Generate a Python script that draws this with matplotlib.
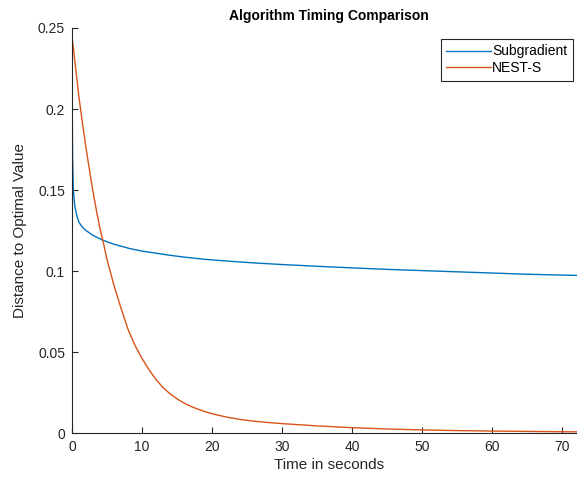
"""
Algorithm timing comparison: distance to optimal value vs wall time
for the subgradient method and NEST-S (values read off the reference).
"""

from matplotlib import pyplot as plt

# Subgradient method
SUB_TIME = [0, 0.03, 0.08, 0.19, 0.4, 0.7, 1.0, 1.5, 2, 3, 4.4, 6, 8.3, 10,
            12, 14, 16, 19, 22.6, 26, 30, 37, 45, 55, 65, 74]
SUB_DIST = [0.245, 0.2, 0.17, 0.15, 0.14, 0.134, 0.130, 0.127, 0.125, 0.122,
            0.119, 0.1165, 0.1138, 0.1123, 0.111, 0.1097, 0.1086, 0.1072,
            0.106, 0.105, 0.104, 0.1025, 0.101, 0.0995, 0.098, 0.0971]

# NEST-S
NEST_TIME = [0, 0.5, 1, 1.5, 2, 2.5, 3, 3.5, 4, 4.5, 5, 6, 7, 8, 9, 10, 11, 12,
             13, 14, 15, 16, 17, 18, 19, 20, 22, 24, 26, 28, 30, 35, 40, 45,
             50, 55, 60, 65, 70, 74]
NEST_DIST = [0.245, 0.226, 0.207, 0.191, 0.176, 0.162, 0.149, 0.137, 0.126,
             0.117, 0.107, 0.091, 0.077, 0.064, 0.054, 0.046, 0.039, 0.033,
             0.028, 0.0242, 0.0211, 0.0185, 0.0164, 0.0147, 0.0132, 0.0119,
             0.0099, 0.0084, 0.0073, 0.0065, 0.0058, 0.0044, 0.0033, 0.0025,
             0.0019, 0.0015, 0.0012, 0.001, 0.0008, 0.0007]

X_TICKS = [0, 10, 20, 30, 40, 50, 60, 70]
Y_TICKS = [0, 0.05, 0.1, 0.15, 0.2, 0.25]
Y_TICK_LABELS = ["0", "0.05", "0.1", "0.15", "0.2", "0.25"]

AXIS_COLOR = "#262626"

plt.rcParams["font.family"] = ["Liberation Sans", "DejaVu Sans"]

fig = plt.figure(figsize=(5.77, 4.86), dpi=100)
# axes run a little past the right edge, like the cropped MATLAB figure
ax = fig.add_axes([0.1248, 0.109, 0.891, 0.8334])

ax.plot(SUB_TIME, SUB_DIST, color="#0072BD", linewidth=1.0, label="Subgradient")
ax.plot(NEST_TIME, NEST_DIST, color="#D95319", linewidth=1.0, label="NEST-S")

ax.set_xlim(0, 73.4)
ax.set_ylim(0, 0.25)
ax.set_xticks(X_TICKS)
ax.set_yticks(Y_TICKS)
ax.set_yticklabels(Y_TICK_LABELS)

for side in ("top", "right"):
    ax.spines[side].set_visible(False)
for side in ("left", "bottom"):
    ax.spines[side].set_color(AXIS_COLOR)
    ax.spines[side].set_linewidth(0.8)
ax.tick_params(direction="in", length=4, width=0.8, colors=AXIS_COLOR,
               labelsize=10, pad=5)

ax.set_xlabel("Time in seconds", fontsize=11, color=AXIS_COLOR, labelpad=3)
ax.set_ylabel("Distance to Optimal Value", fontsize=11, color=AXIS_COLOR,
              labelpad=8)
ax.set_title("Algorithm Timing Comparison", fontsize=10, fontweight="bold",
             color="black", pad=6)

leg = ax.legend(loc="upper right", bbox_to_anchor=(0.993, 0.920),
                bbox_transform=fig.transFigure, fontsize=10, fancybox=False,
                framealpha=1, edgecolor=AXIS_COLOR, borderpad=0.4,
                handlelength=3.2, handletextpad=0.1, labelspacing=0.2,
                borderaxespad=0)
leg.get_frame().set_linewidth(0.8)

fig.savefig("out.png", dpi=100)
